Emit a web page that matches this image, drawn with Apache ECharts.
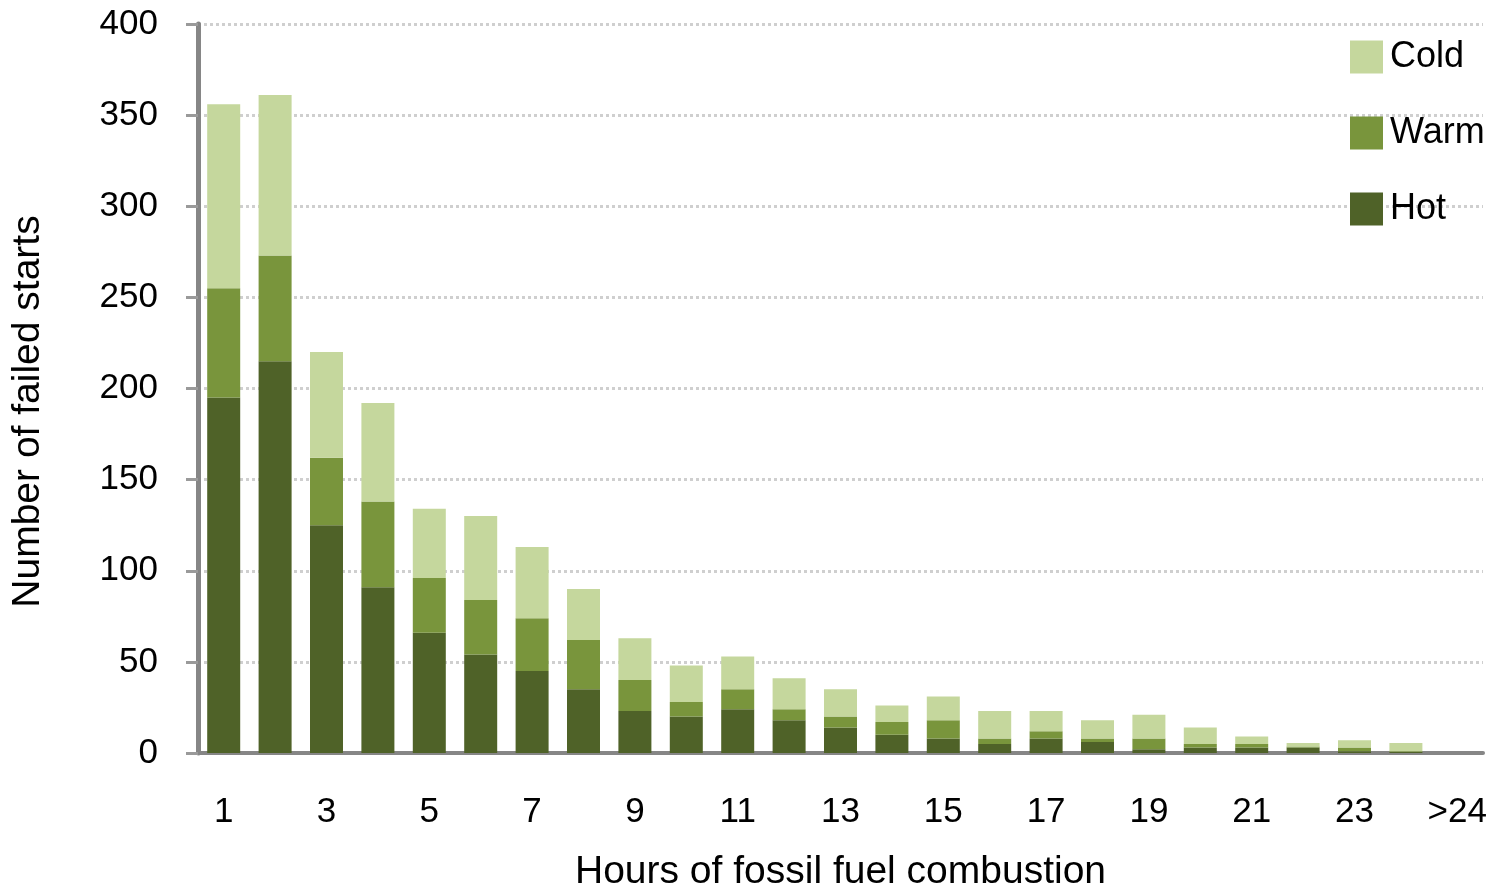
<!DOCTYPE html>
<html>
<head>
<meta charset="utf-8">
<script src="https://cdn.jsdelivr.net/npm/echarts@6/dist/echarts.min.js"></script>
<style>
  html, body { margin: 0; padding: 0; background: #fff; }
  #chart { width: 1500px; height: 886px; }
</style>
</head>
<body>
<div id="chart"></div>
<script>
// hours of fossil fuel combustion
var hours = ['1','2','3','4','5','6','7','8','9','10','11','12','13','14','15','16','17','18','19','20','21','22','23','24','>24'];
var hot  = [195, 215, 125, 91, 66, 54, 45, 35, 23, 20, 24, 18, 14, 10, 8, 5, 8, 6, 2, 3, 3, 3, 1, 0.5, 0];
var warm = [60, 58, 37, 47, 30, 30, 29, 27, 17, 8, 11, 6, 6, 7, 10, 3, 4, 2, 6, 2, 2, 0.5, 2, 0.5, 0];
var cold = [101, 88, 58, 54, 38, 46, 39, 28, 23, 20, 18, 17, 15, 9, 13, 15, 11, 10, 13, 9, 4, 2, 4, 4.5, 0];

var font = "'Liberation Sans', 'DejaVu Sans', sans-serif";
var axisGray = '#868686';

var chart = echarts.init(document.getElementById('chart'));

function barSeries(name, data, color) {
    return {
        name: name,
        type: 'bar',
        stack: 'starts',
        data: data,
        barWidth: 33,
        itemStyle: { color: color },
        emphasis: { disabled: true }
    };
}

var option = {
    animation: false,
    backgroundColor: '#fff',
    grid: {
        left: 198,
        right: 17,
        top: 24,
        bottom: 133,
        containLabel: false,
        outerBoundsMode: 'none'
    },
    legend: {
        orient: 'vertical',
        left: 1345,
        top: 34,
        itemWidth: 33,
        itemHeight: 33,
        itemGap: 40,
        icon: 'rect',
        data: ['Cold', 'Warm', 'Hot'],
        textStyle: { fontFamily: font, fontSize: 36, lineHeight: 33, color: '#000', padding: [0, 0, 0, 2] }
    },
    xAxis: {
        type: 'category',
        data: hours,
        name: 'Hours of fossil fuel combustion',
        nameLocation: 'middle',
        nameGap: 100,
        nameTextStyle: { fontFamily: font, fontSize: 39, color: '#000' },
        axisLine: { lineStyle: { color: axisGray, width: 4 } },
        axisTick: {
            alignWithLabel: false,
            interval: 0,
            length: 12,
            lineStyle: { color: '#9a9a9a', width: 3 }
        },
        axisLabel: {
            interval: 1,
            margin: 42,
            fontFamily: font,
            fontSize: 35,
            color: '#000'
        }
    },
    yAxis: {
        type: 'value',
        min: 0,
        max: 400,
        interval: 50,
        name: 'Number of failed starts',
        nameLocation: 'middle',
        nameGap: 150,
        nameRotate: 90,
        nameTextStyle: { fontFamily: font, fontSize: 39, color: '#000', padding: [0, 46, 0, 0] },
        axisLine: { show: true, lineStyle: { color: axisGray, width: 5 } },
        axisTick: {
            show: true,
            length: 12,
            lineStyle: { color: '#9a9a9a', width: 3 }
        },
        axisLabel: {
            margin: 40,
            fontFamily: font,
            fontSize: 35,
            color: '#000'
        },
        splitLine: {
            show: true,
            lineStyle: { color: '#cfcfcf', width: 3, type: [3, 3] }
        }
    },
    series: [
        barSeries('Hot', hot, '#4f6228'),
        barSeries('Warm', warm, '#79953c'),
        barSeries('Cold', cold, '#c5d79d')
    ]
};

chart.setOption(option);
</script>
</body>
</html>
